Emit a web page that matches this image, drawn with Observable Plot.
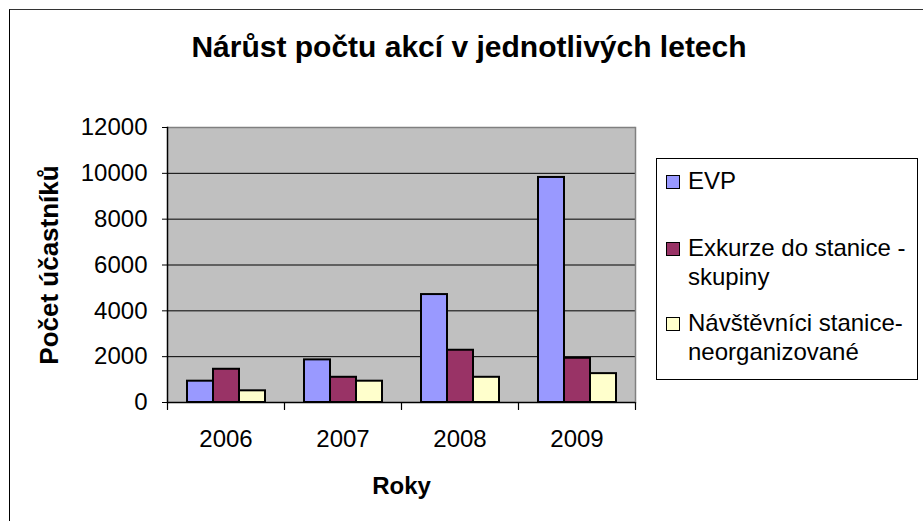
<!DOCTYPE html>
<html>
<head>
<meta charset="utf-8">
<script src="https://cdn.jsdelivr.net/npm/d3@7"></script>
<script src="https://cdn.jsdelivr.net/npm/@observablehq/plot@0.6"></script>
<style>
  html, body { margin: 0; padding: 0; background: #fff; overflow: hidden; }
  #chart { position: relative; width: 923px; height: 521px; overflow: hidden;
           font-family: Arial, "Liberation Sans", sans-serif; color: #000; }
  #outer { position: absolute; left: 9px; top: 9px; width: 1000px; height: 1000px;
           border-left: 1.5px solid #000; border-top: 1.5px solid #333; }
  #title { position: absolute; left: 0; top: 31.6px; width: 938px; text-align: center;
           font-size: 30px; line-height: 30px; font-weight: bold; white-space: nowrap; }
  #plot { position: absolute; left: 0; top: 0; }
  #legend { position: absolute; left: 656px; top: 158px; width: 262px; height: 222px;
            border: 1px solid #000; box-sizing: border-box; background: #fff; }
  .sw { position: absolute; width: 14px; height: 14px; box-sizing: border-box;
        border: 1.5px solid #000; }
  .lt { position: absolute; width: 230px; font-size: 24px; line-height: 29px; }
  g[aria-label="y-axis label"] text, g[aria-label="fx-axis label"] text { font-weight: bold; }
  g[aria-label="y-axis label"] text { font-size: 26px; }
</style>
</head>
<body>
<div id="chart">
  <div id="outer"></div>
  <div id="plot"></div>
  <div id="title"></div>
  <div id="legend"></div>
</div>
<script>
const titleText = "Nárůst počtu akcí v jednotlivých letech";
const yLabel = "Počet účastníků";
const xLabel = "Roky";
const years = ["2006", "2007", "2008", "2009"];
const seriesNames = ["EVP", "Exkurze do stanice - skupiny", "Návštěvníci stanice-neorganizované"];
const evp = [930, 1860, 4710, 9820];
const exkurze = [1450, 1100, 2280, 1930];
const navstevnici = [510, 930, 1100, 1260];
const yTicks = [0, 2000, 4000, 6000, 8000, 10000, 12000];
const colors = ["#9999FF", "#993366", "#FFFFCC"];

const seriesValues = [evp, exkurze, navstevnici];
const data = years.flatMap((yr, i) => seriesNames.map((s, j) => ({year: yr, series: s, value: seriesValues[j][i]})));

document.getElementById("title").textContent = titleText;

const tickShape = { draw(context, l) { context.moveTo(0, 0); context.lineTo(0, -l); } };

const chart = Plot.plot({
  width: 923,
  height: 521,
  marginLeft: 165,
  marginRight: 287,
  marginTop: 127,
  marginBottom: 119,
  style: { fontFamily: 'Arial, "Liberation Sans", sans-serif', fontSize: "24px", color: "#000", background: "transparent", overflow: "visible" },
  fx: { domain: years, padding: 0, label: xLabel },
  x: { domain: seriesNames, paddingInner: 0, paddingOuter: 0.74, axis: null },
  y: { domain: [yTicks[0], yTicks[yTicks.length - 1]], label: yLabel },
  color: { domain: seriesNames, range: colors },
  marks: [
    Plot.frame({ fill: "#c0c0c0", insetLeft: -0.6, insetRight: -0.6, shapeRendering: "crispEdges" }),
    Plot.gridY(yTicks.slice(1, -1), { stroke: "#000", strokeOpacity: 1, strokeWidth: 1 }),
    Plot.ruleY(yTicks.slice(-1), { stroke: "#808080", strokeWidth: 1.5 }),
    Plot.frame({ anchor: "right", stroke: "#808080", strokeWidth: 1.5, facetAnchor: "right" }),
    Plot.barY(data, { fx: "year", x: "series", y: "value", fill: "series", stroke: "#000", strokeWidth: 2, inset: 0 }),
    Plot.ruleY(yTicks.slice(0, 1), { stroke: "#000", strokeWidth: 1.5 }),
    Plot.frame({ anchor: "left", stroke: "#000", strokeWidth: 1.5, facetAnchor: "left" }),
    Plot.vector(years, { fx: d => d, frameAnchor: "bottom-left", length: 7, rotate: 180, anchor: "start", shape: tickShape, stroke: "#000", strokeWidth: 1.2 }),
    Plot.vector(years.slice(-1), { fx: d => d, frameAnchor: "bottom-right", length: 7, rotate: 180, anchor: "start", shape: tickShape, stroke: "#000", strokeWidth: 1.2 }),
    Plot.axisY({ ticks: yTicks, tickFormat: "d", tickSize: 5, tickPadding: 15, label: yLabel, labelAnchor: "center", labelArrow: "none", labelOffset: 128, stroke: "#000" }),
    Plot.axisFx({ anchor: "bottom", tickSize: 0, tickPadding: 27, label: xLabel, labelAnchor: "center", labelArrow: "none", labelOffset: 91 })
  ]
});
document.getElementById("plot").appendChild(chart);

// legend
const legend = document.getElementById("legend");
const baselines = [189, 256, 331];
seriesNames.forEach((name, i) => {
  const sw = document.createElement("div");
  sw.className = "sw";
  sw.style.background = colors[i];
  sw.style.left = (666 - 656 - 1) + "px";
  sw.style.top = (baselines[i] - 14 - 158 - 1) + "px";
  legend.appendChild(sw);
  const t = document.createElement("div");
  t.className = "lt";
  t.textContent = name;
  t.style.left = (688 - 656 - 1) + "px";
  t.style.top = (baselines[i] - 22.8 - 158 - 1) + "px";
  legend.appendChild(t);
});
</script>
</body>
</html>
